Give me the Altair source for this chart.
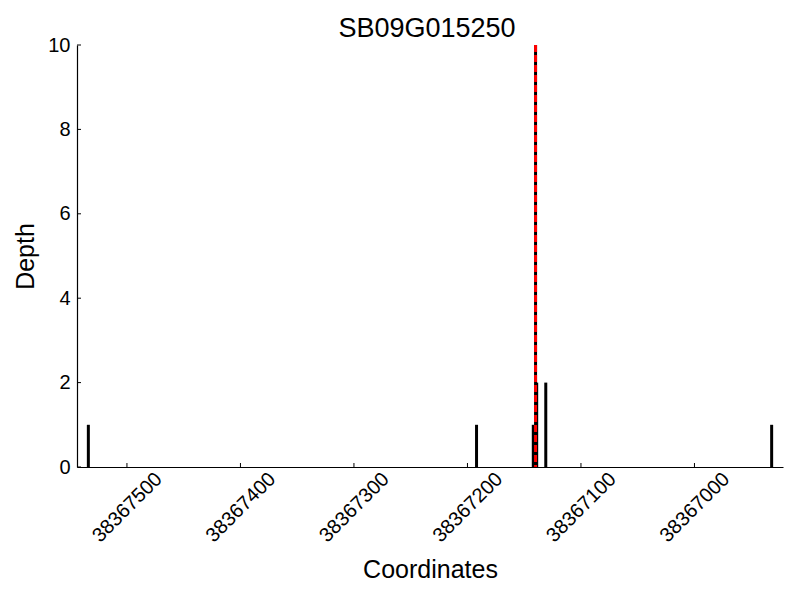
import altair as alt
import pandas as pd

# Data
positions = [38367534, 38367192, 38367142, 38367139, 38367131, 38366932]
depths = [1, 1, 1, 2, 2, 1]
marker_pos = [38367140]
x_ticks = [38367500, 38367400, 38367300, 38367200, 38367100, 38367000]
y_ticks = [0, 2, 4, 6, 8, 10]
x_domain = [38366922, 38367544]
y_domain = [0, 10]
title = "SB09G015250"

FONT = "Liberation Sans"
W, H = 706, 422

bars_df = pd.DataFrame({"pos": positions, "depth": depths, "base": [0] * len(positions)})
marker_df = pd.DataFrame({"pos": marker_pos})
xt_df = pd.DataFrame({"pos": x_ticks})
yt_df = pd.DataFrame({"depth": y_ticks})
title_df = pd.DataFrame({"t": [title]})

xscale = alt.Scale(domain=x_domain, reverse=True, nice=False, zero=False)
yscale = alt.Scale(domain=y_domain, nice=False)

xaxis = alt.Axis(
    values=x_ticks, format="d", title="Coordinates", grid=False, ticks=False, tickSize=0,
    labelAngle=315, labelAlign="center", labelBaseline="middle", labelPadding=40,
    labelFont=FONT, labelFontSize=20, labelColor="black",
    titleFont=FONT, titleFontSize=25, titleFontWeight="normal", titleColor="black",
    titleBaseline="alphabetic", titleY=110,
    domainColor="black", domainWidth=1.2, labelOverlap=False, labelFlush=False,
)
yaxis = alt.Axis(
    values=y_ticks, title="Depth", grid=False, ticks=False, tickSize=0, labelPadding=7,
    labelFont=FONT, labelFontSize=20, labelColor="black",
    titleFont=FONT, titleFontSize=25, titleFontWeight="normal", titleColor="black",
    titleBaseline="alphabetic", titleX=-44, titleAngle=270,
    domainColor="black", domainWidth=1.2, labelFlush=False,
)

X = alt.X("pos:Q", scale=xscale, axis=xaxis)
Y = alt.Y("depth:Q", scale=yscale, axis=yaxis)

bars = alt.Chart(bars_df).mark_rule(color="black", strokeWidth=3, strokeCap="butt").encode(
    x=X, y=Y, y2="base:Q",
)

xticks = alt.Chart(xt_df).mark_rule(color="black", strokeWidth=1).encode(
    x=X, y=alt.value(H), y2=alt.value(H - 4),
)
yticks = alt.Chart(yt_df).mark_rule(color="black", strokeWidth=1).encode(
    y=Y, x=alt.value(0), x2=alt.value(4),
)

black_line = alt.Chart(marker_df).mark_rule(color="black", strokeWidth=3).encode(x=X)
red_line = alt.Chart(marker_df).mark_rule(color="#ff0000", strokeWidth=3, strokeDash=[7, 3]).encode(x=X)

title_mark = alt.Chart(title_df).mark_text(
    font=FONT, fontSize=27, color="black", align="center", baseline="alphabetic"
).encode(text="t:N", x=alt.value(350), y=alt.value(-8))

chart = alt.layer(bars, xticks, yticks, black_line, red_line, title_mark).properties(
    width=W, height=H,
    background="white",
    autosize=alt.AutoSizeParams(type="none"),
    padding={"left": 69, "top": 37, "right": 9, "bottom": 117},
).configure_view(stroke=None)

chart.save("out.html", embed_options={"renderer": "svg", "actions": False})
